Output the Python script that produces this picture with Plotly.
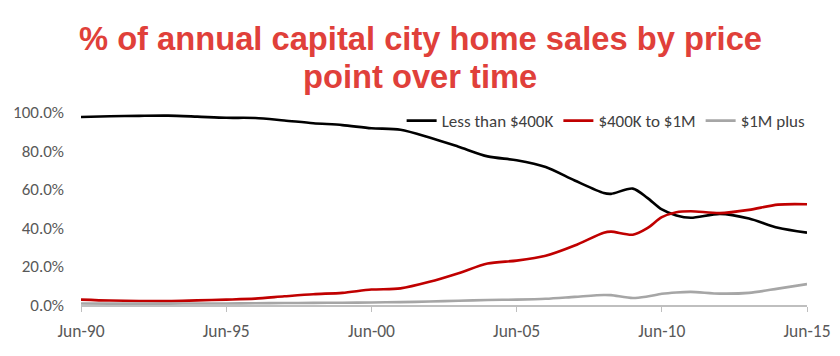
import plotly.graph_objects as go

dates = ["1990-06-01", "1991-06-01", "1992-06-01", "1993-06-01", "1994-06-01",
         "1995-06-01", "1996-06-01", "1997-06-01", "1998-06-01", "1999-06-01",
         "2000-06-01", "2001-06-01", "2002-06-01", "2003-06-01", "2004-06-01",
         "2005-06-01", "2006-06-01", "2007-06-01", "2008-06-01", "2008-09-01",
         "2009-06-01", "2009-12-01", "2010-06-01", "2010-12-01", "2011-06-01",
         "2012-06-01", "2013-06-01", "2014-06-01", "2015-06-01"]

less_400k = [97.4, 97.8, 98.0, 98.1, 97.6, 97.0, 96.9, 95.6, 94.2, 93.2,
             91.6, 90.8, 86.8, 82.0, 77.0, 75.0, 71.5, 64.5, 58.0, 57.6,
             60.3, 55.5, 49.5, 46.4, 45.2, 47.2, 44.8, 40.0, 37.5]

mid_400k_1m = [2.8, 2.3, 2.1, 2.0, 2.4, 2.8, 3.3, 4.5, 5.6, 6.3,
               8.0, 8.6, 12.0, 16.5, 21.5, 23.0, 25.5, 30.8, 37.5, 38.0,
               36.4, 39.8, 45.5, 48.1, 48.6, 47.6, 49.3, 52.0, 52.2]

plus_1m = [0.8, 0.7, 0.7, 0.7, 0.8, 0.8, 0.9, 1.0, 1.1, 1.2,
           1.3, 1.5, 1.8, 2.2, 2.6, 2.8, 3.2, 4.2, 5.2, 5.1,
           3.6, 4.4, 5.8, 6.5, 6.8, 5.9, 6.3, 8.5, 10.8]

series_names = ["Less than $400K", "$400K to $1M", "$1M plus"]
series_colors = ["#000000", "#C00000", "#A6A6A6"]

tick_dates = ["1990-06-01", "1995-06-01", "2000-06-01", "2005-06-01", "2010-06-01", "2015-06-01"]
tick_labels = ["Jun-90", "Jun-95", "Jun-00", "Jun-05", "Jun-10", "Jun-15"]

title_lines = ["% of annual capital city home sales by price", "point over time"]

TXT = "Carlito, Lato, sans-serif"

fig = go.Figure()
for name, vals, col in zip(series_names, [less_400k, mid_400k_1m, plus_1m], series_colors):
    fig.add_trace(go.Scatter(
        x=dates, y=[v / 100 for v in vals], name=name, mode="lines",
        line=dict(color=col, width=2.6, shape="spline", smoothing=0.8),
    ))

# plot area: x 81..807 px, y 112..305 px
title_y = [1.383, 1.185]
for txt, yy in zip(title_lines, title_y):
    fig.add_annotation(
        text=txt, xref="paper", yref="paper", x=0.467, y=yy,
        xanchor="center", yanchor="middle", showarrow=False,
        font=dict(family="Liberation Sans", size=32.7, color="#E0403A", weight="bold"),
    )

fig.update_layout(
    width=840, height=356,
    margin=dict(l=81, r=33, t=112, b=51, autoexpand=False),
    paper_bgcolor="white", plot_bgcolor="white",
    font=dict(family=TXT, size=17, color="#595959"),
    legend=dict(
        orientation="h", x=1.005, xanchor="right", y=0.953, yanchor="middle",
        font=dict(family=TXT, size=17, color="#404040"),
        itemwidth=30, bgcolor="rgba(0,0,0,0)",
    ),
    showlegend=True,
)

fig.update_xaxes(
    type="date", range=["1990-06-01", "2015-06-01"],
    tickmode="array", tickvals=tick_dates, ticktext=tick_labels,
    showline=True, linecolor="#BFBFBF", linewidth=1.5,
    ticks="outside", ticklen=5, tickcolor="#BFBFBF", tickwidth=1,
    showgrid=False, zeroline=False, ticklabelstandoff=4,
    tickfont=dict(family=TXT, size=17.5, color="#595959"),
)
fig.update_yaxes(
    range=[0, 1.0], tickmode="linear", tick0=0, dtick=0.2, tickformat=".1%",
    showgrid=False, zeroline=False, showline=False, ticks="",
    ticklabelstandoff=16,
    tickfont=dict(family=TXT, size=17, color="#595959"),
)

fig.write_html("out.html", config={"displayModeBar": False},
               post_script="document.body.style.margin='0';")
